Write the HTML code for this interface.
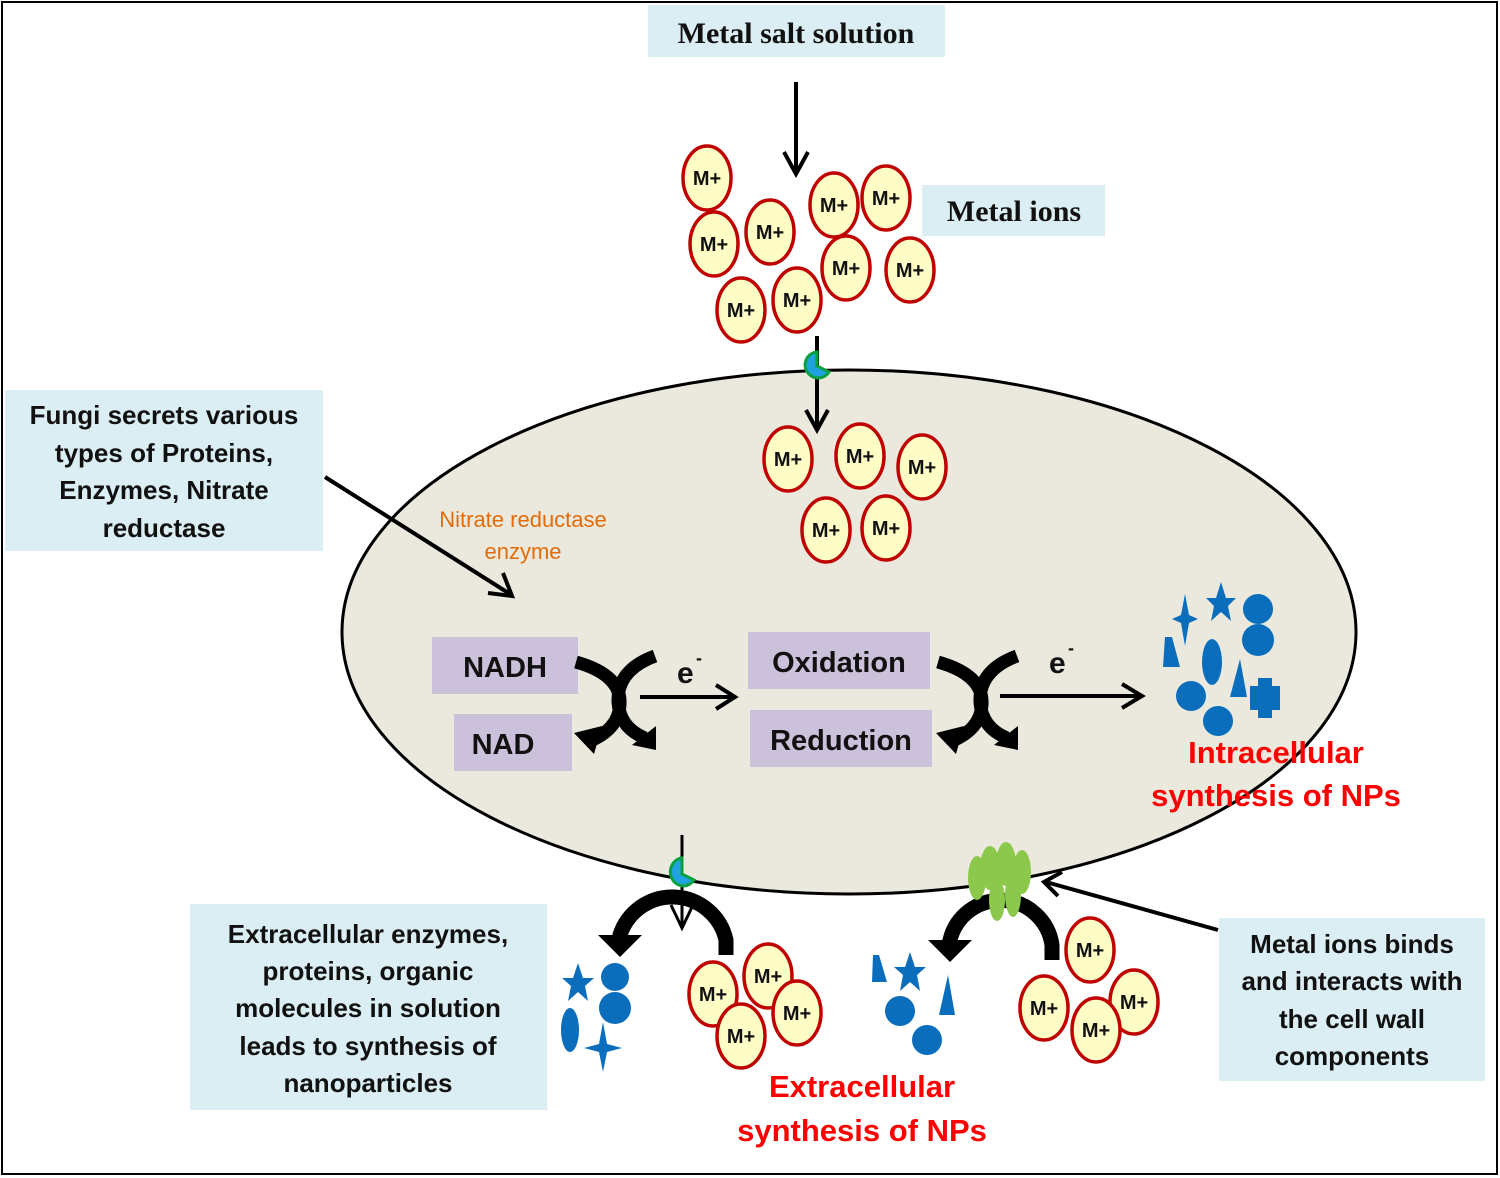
<!DOCTYPE html>
<html><head><meta charset="utf-8"><style>
html,body{margin:0;padding:0;background:#fff;}
svg{display:block;}
.s{font-family:"Liberation Sans",sans-serif;font-weight:bold;}
.r{font-family:"Liberation Serif",serif;font-weight:bold;}
</style></head><body>
<svg width="1500" height="1178" viewBox="0 0 1500 1178" xmlns="http://www.w3.org/2000/svg">
<defs>
<g id="ion"><ellipse cx="0" cy="0" rx="24" ry="32" fill="#fefdc6" stroke="#c00000" stroke-width="3.5"/><text x="0" y="7" text-anchor="middle" class="s" font-size="20" fill="#111">M+</text></g>
</defs>
<rect x="2" y="2" width="1495" height="1172" fill="#fff" stroke="#000" stroke-width="2"/>
<ellipse cx="849" cy="632" rx="507" ry="262" fill="#ebe9de" stroke="#000" stroke-width="3"/>

<rect x="648" y="5" width="297" height="52" fill="#daeef3"/>
<text x="796" y="43" text-anchor="middle" class="r" font-size="30" fill="#111">Metal salt solution</text>
<line x1="796" y1="82" x2="796" y2="172" stroke="#000" stroke-width="4"/>
<path d="M784,152 L796,174 L808,152" fill="none" stroke="#000" stroke-width="4"/>

<rect x="922" y="185" width="183" height="51" fill="#daeef3"/>
<text x="1014" y="221" text-anchor="middle" class="r" font-size="30" fill="#111">Metal ions</text>

<use href="#ion" x="707" y="178"/><use href="#ion" x="834" y="205"/><use href="#ion" x="886" y="198"/>
<use href="#ion" x="770" y="232"/><use href="#ion" x="714" y="244"/><use href="#ion" x="846" y="268"/>
<use href="#ion" x="910" y="270"/><use href="#ion" x="741" y="310"/><use href="#ion" x="797" y="300"/>

<line x1="817" y1="336" x2="817" y2="428" stroke="#000" stroke-width="4"/>
<path d="M806,410 L817,430 L828,410" fill="none" stroke="#000" stroke-width="4"/>
<path d="M817,352 A13,13 0 1 0 829,372 L817,366 Z" fill="#1fa3e0" stroke="#0aa040" stroke-width="3"/>

<use href="#ion" x="788" y="459"/><use href="#ion" x="860" y="456"/><use href="#ion" x="922" y="467"/>
<use href="#ion" x="826" y="530"/><use href="#ion" x="886" y="528"/>

<rect x="5" y="390" width="318" height="161" fill="#daeef3"/>
<g class="s" font-size="26" fill="#111" text-anchor="middle">
<text x="164" y="424">Fungi secrets various</text>
<text x="164" y="462">types of Proteins,</text>
<text x="164" y="499">Enzymes, Nitrate</text>
<text x="164" y="537">reductase</text>
</g>
<line x1="325" y1="477" x2="510" y2="594" stroke="#000" stroke-width="4"/>
<path d="M488,593 L512,596 L503,573" fill="none" stroke="#000" stroke-width="4"/>

<g font-family="Liberation Sans, sans-serif" font-size="22" fill="#e36c09" text-anchor="middle">
<text x="523" y="527">Nitrate reductase</text>
<text x="523" y="559">enzyme</text>
</g>

<rect x="432" y="637" width="146" height="57" fill="#ccc1da"/>
<text x="505" y="677" text-anchor="middle" class="s" font-size="29" fill="#111">NADH</text>
<rect x="454" y="714" width="118" height="57" fill="#ccc1da"/>
<text x="503" y="754" text-anchor="middle" class="s" font-size="29" fill="#111">NAD</text>
<rect x="748" y="632" width="182" height="57" fill="#ccc1da"/>
<text x="839" y="672" text-anchor="middle" class="s" font-size="29" fill="#111">Oxidation</text>
<rect x="750" y="710" width="182" height="57" fill="#ccc1da"/>
<text x="841" y="750" text-anchor="middle" class="s" font-size="29" fill="#111">Reduction</text>

<g fill="none" stroke="#000" stroke-width="13">
<path d="M576,662 Q622,675 620,705 Q618,730 588,742"/>
<path d="M655,656 Q617,670 618,702 Q620,728 645,738"/>
<path d="M938,662 Q984,675 982,705 Q980,730 950,742"/>
<path d="M1017,656 Q979,670 980,702 Q982,728 1007,738"/>
</g>
<path d="M574,733 L602,726 L594,754 Z" fill="#000"/>
<path d="M632,745 L656,726 L656,750 Z" fill="#000"/>
<path d="M936,733 L964,726 L956,754 Z" fill="#000"/>
<path d="M994,745 L1018,726 L1018,750 Z" fill="#000"/>

<g class="s" font-size="30" fill="#111"><text x="677" y="683">e</text><text x="1049" y="673">e</text></g>
<g class="s" font-size="18" fill="#111"><text x="696" y="664">-</text><text x="1068" y="654">-</text></g>
<line x1="640" y1="697" x2="733" y2="697" stroke="#000" stroke-width="4"/>
<path d="M716,685 L735,697 L716,709" fill="none" stroke="#000" stroke-width="4"/>
<line x1="1000" y1="696" x2="1140" y2="696" stroke="#000" stroke-width="4"/>
<path d="M1122,684 L1142,696 L1122,708" fill="none" stroke="#000" stroke-width="4"/>

<g fill="#0a6ebd">
<path d="M1185,594 L1189,615 L1198,619 L1189,623 L1185,646 L1181,623 L1172,619 L1181,615 Z"/>
<path d="M1221,582 L1226,598 L1236,598 L1228,606 L1231,621 L1221,612 L1211,621 L1214,606 L1206,598 L1216,598 Z"/>
<circle cx="1258" cy="609" r="15"/><circle cx="1258" cy="640" r="16"/>
<path d="M1165,637 L1172,637 L1180,667 L1163,667 Z"/>
<ellipse cx="1212" cy="662" rx="10" ry="23"/>
<path d="M1240,659 L1247,697 L1230,697 Z"/>
<circle cx="1191" cy="696" r="15"/><circle cx="1218" cy="721" r="15"/>
<path d="M1258,678 L1272,678 L1272,686 L1280,686 L1280,710 L1272,710 L1272,718 L1258,718 L1258,710 L1250,710 L1250,686 L1258,686 Z"/>
</g>
<g class="s" font-size="31" fill="#ff0000" text-anchor="middle">
<text x="1276" y="763">Intracellular</text>
<text x="1276" y="806">synthesis of NPs</text>
</g>

<path d="M726,955 L726,940 A55,55 0 0 0 620,935 L620,945" fill="none" stroke="#000" stroke-width="15"/>
<path d="M598,935 L642,935 L620,957 Z" fill="#000"/>
<line x1="682" y1="835" x2="682" y2="925" stroke="#000" stroke-width="3"/>
<path d="M671,905 L682,928 L693,905" fill="none" stroke="#000" stroke-width="3"/>
<path d="M682,858 A13,14 0 1 0 694,880 L682,874 Z" fill="#1fa3e0" stroke="#0aa040" stroke-width="3"/>

<g fill="#0a6ebd">
<path d="M578,963 L583,978 L594,978 L585,986 L588,1001 L578,992 L568,1001 L571,986 L562,978 L573,978 Z"/>
<circle cx="615" cy="977" r="14"/><circle cx="615" cy="1008" r="16"/>
<ellipse cx="570" cy="1030" rx="9" ry="22"/>
<path d="M603,1022 L607,1044 L622,1048 L607,1052 L603,1072 L599,1052 L584,1048 L599,1044 Z"/>
</g>
<use href="#ion" x="713" y="994"/><use href="#ion" x="768" y="976"/><use href="#ion" x="797" y="1013"/><use href="#ion" x="741" y="1036"/>

<path d="M1052,960 L1052,945 A52,52 0 0 0 950,940 L950,948" fill="none" stroke="#000" stroke-width="15"/>
<path d="M928,940 L972,940 L950,962 Z" fill="#000"/>
<g fill="#8cc84b">
<ellipse cx="977" cy="878" rx="9" ry="22"/><ellipse cx="990" cy="868" rx="10" ry="22"/>
<ellipse cx="1006" cy="864" rx="10" ry="22"/><ellipse cx="1022" cy="872" rx="9" ry="22"/>
<ellipse cx="997" cy="900" rx="8" ry="21"/><ellipse cx="1013" cy="895" rx="8" ry="22"/>
</g>
<line x1="1218" y1="930" x2="1046" y2="882" stroke="#000" stroke-width="4"/>
<path d="M1062,872 L1044,882 L1058,896" fill="none" stroke="#000" stroke-width="4"/>
<g fill="#0a6ebd">
<path d="M873,955 L879,955 L887,982 L872,982 Z"/>
<path d="M910,952 L915,967 L926,967 L917,975 L920,991 L910,982 L900,991 L903,975 L894,967 L905,967 Z"/>
<path d="M948,975 L955,1015 L939,1015 Z"/>
<circle cx="900" cy="1011" r="15"/><circle cx="927" cy="1040" r="15"/>
</g>
<use href="#ion" x="1090" y="950"/><use href="#ion" x="1044" y="1008"/><use href="#ion" x="1134" y="1002"/><use href="#ion" x="1096" y="1030"/>

<g class="s" font-size="31" fill="#ff0000" text-anchor="middle">
<text x="862" y="1097">Extracellular</text>
<text x="862" y="1141">synthesis of NPs</text>
</g>

<rect x="190" y="904" width="357" height="206" fill="#daeef3"/>
<g class="s" font-size="26" fill="#111" text-anchor="middle">
<text x="368" y="943">Extracellular  enzymes,</text>
<text x="368" y="980">proteins, organic</text>
<text x="368" y="1017">molecules in solution</text>
<text x="368" y="1055">leads to synthesis of</text>
<text x="368" y="1092">nanoparticles</text>
</g>
<rect x="1219" y="918" width="266" height="163" fill="#daeef3"/>
<g class="s" font-size="26" fill="#111" text-anchor="middle">
<text x="1352" y="953">Metal ions binds</text>
<text x="1352" y="990">and interacts with</text>
<text x="1352" y="1028">the cell wall</text>
<text x="1352" y="1065">components</text>
</g>
</svg>
</body></html>
